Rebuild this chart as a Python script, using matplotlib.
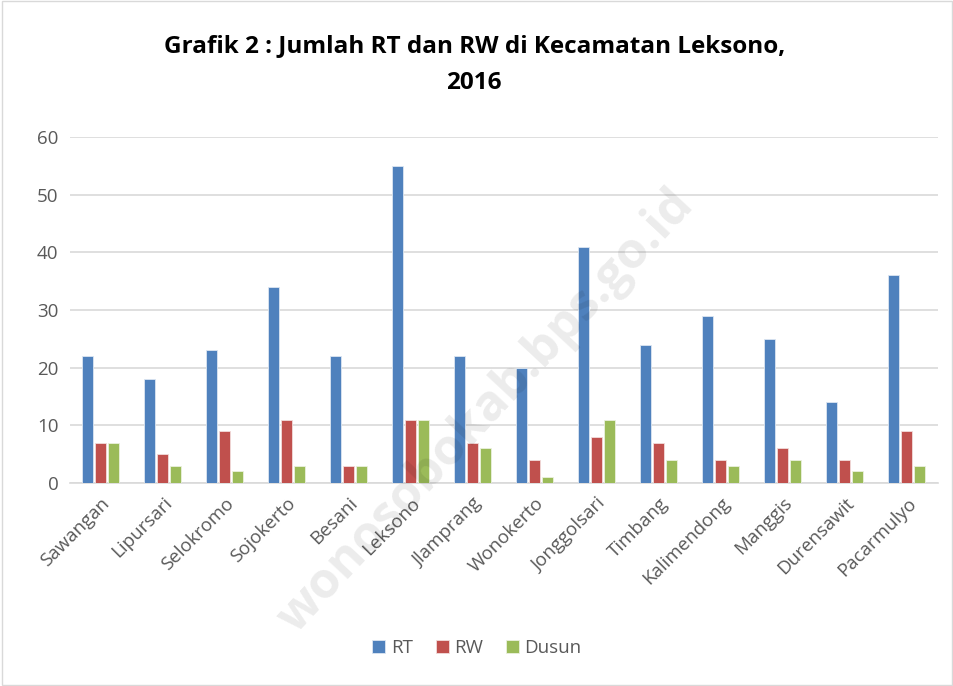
import numpy as np
import matplotlib.pyplot as plt
from matplotlib.patches import Rectangle

desa = ['Sawangan', 'Lipursari', 'Selokromo', 'Sojokerto', 'Besani', 'Leksono',
        'Jlamprang', 'Wonokerto', 'Jonggolsari', 'Timbang', 'Kalimendong',
        'Manggis', 'Durensawit', 'Pacarmulyo']
rt = [22, 18, 23, 34, 22, 55, 22, 20, 41, 24, 29, 25, 14, 36]
rw = [7, 5, 9, 11, 3, 11, 7, 4, 8, 7, 4, 6, 4, 9]
dusun = [7, 3, 2, 3, 3, 11, 6, 1, 11, 4, 3, 4, 2, 3]

plt.rcParams['font.family'] = ['Open Sans', 'DejaVu Sans']

fig = plt.figure(figsize=(9.54, 6.86), dpi=100)
ax = fig.add_axes([0.073, 0.296, 0.910, 0.504])

x = np.arange(len(desa))
w = 0.18
ax.bar(x - 0.21, rt, w, color='#4F81BD', edgecolor='#DCE6F2', linewidth=0.6, label='RT', zorder=3)
ax.bar(x, rw, w, color='#C0504D', edgecolor='#F2DCDB', linewidth=0.6, label='RW', zorder=3)
ax.bar(x + 0.21, dusun, w, color='#9BBB59', edgecolor='#EBF1DE', linewidth=0.6, label='Dusun', zorder=3)

ax.set_xlim(-0.5, len(desa) - 0.5)
ax.set_ylim(0, 60)
ax.set_yticks(range(0, 61, 10))
ax.yaxis.grid(True, color='#D9D9D9', linewidth=1.2, zorder=0)
ax.set_axisbelow(True)
for s in ['top', 'right', 'left']:
    ax.spines[s].set_visible(False)
ax.spines['bottom'].set_color('#D9D9D9')
ax.spines['bottom'].set_linewidth(1.2)
ax.tick_params(axis='both', length=0, labelsize=13.5, colors='#595959', pad=8)
ax.set_xticks(x)
ax.set_xticklabels(desa, rotation=45, ha='right', rotation_mode='anchor')

fig.text(0.497, 0.906, 'Grafik 2 : Jumlah RT dan RW di Kecamatan Leksono,\n2016',
         ha='center', va='center', fontsize=17.5, fontweight='bold', color='black',
         linespacing=1.75)

fig.legend(loc='center', bbox_to_anchor=(0.5, 0.055), ncol=3, frameon=False,
           fontsize=13.5, handlelength=0.7, handleheight=0.7, handletextpad=0.3,
           columnspacing=1.2, labelcolor='#595959')

# watermark
fig.text(0.51, 0.40, 'wonosobokab.bps.go.id', rotation=47, ha='center', va='center',
         fontsize=36, fontweight='bold', color='#000000', alpha=0.08)

fig.patches.append(Rectangle((0.002, 0.002), 0.996, 0.996, transform=fig.transFigure,
                             fill=False, edgecolor='#D9D9D9', linewidth=1))

fig.savefig('out.png', dpi=100)
